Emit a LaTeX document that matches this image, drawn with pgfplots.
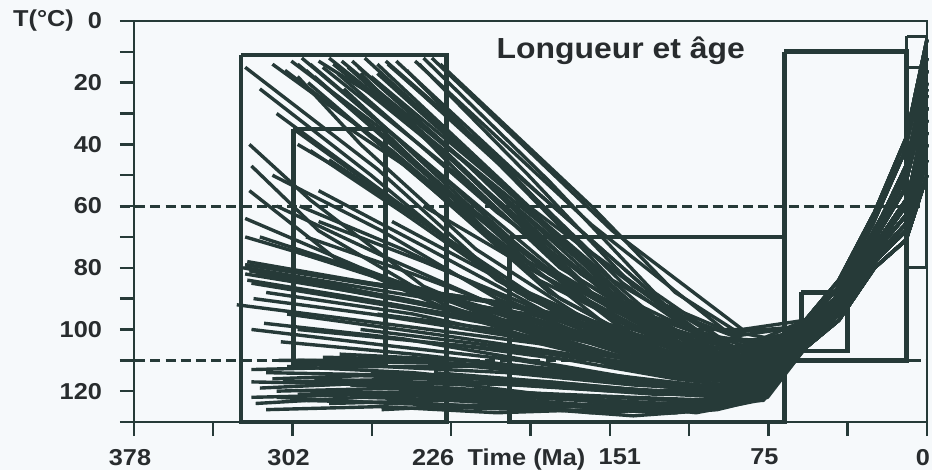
\documentclass[border=0pt]{standalone}
\usepackage{pgfplots}
\pgfplotsset{compat=1.18}
\usepackage{fontspec}
\setmainfont{Liberation Sans}[FakeStretch=1.1]
\definecolor{ink}{RGB}{38,58,56}
\definecolor{txt}{RGB}{40,44,46}
\definecolor{bg}{RGB}{246,249,251}
\pgfplotsset{
  tp/.style={no markers, line width=1.7pt, color=ink, line join=round},
  bx/.style={no markers, line width=2.4pt, color=ink, line join=miter},
}
\begin{document}
\begin{tikzpicture}
\path[fill=bg, use as bounding box] (-67pt,-24pt) rectangle (399pt,211pt);
\begin{axis}[
  at={(0,0)}, anchor=south west,
  scale only axis,
  width=396.5pt, height=200.5pt,
  xmin=0, xmax=378, ymin=0, ymax=130,
  x dir=reverse, y dir=reverse,
  clip=false,
  axis line style={ink, line width=1.2pt},
  tick style={ink, line width=1.2pt},
  tick align=outside,
  major tick length=7pt,
  xtick pos=bottom, ytick pos=left,
  xtick={0,37.8,75.6,113.4,151.2,189,226.8,264.6,302.4,340.2,378},
  xticklabels={0,,75,,\hspace*{14pt}151,Time (Ma),226\hspace*{14pt},,302,,378},
  ytick={0,10,20,30,40,50,60,70,80,90,100,110,120,130},
  yticklabels={0,,20,,40,,60,,80,,100,,120,},
  tick label style={font=\bfseries\fontsize{11.5}{13}\selectfont, text=txt},
  yticklabel style={xshift=-5.5pt},
  xticklabel style={yshift=-3pt, xshift=-2pt},
]
% constraint boxes
\addplot[bx] coordinates {(327,11) (229,11) (229,130) (327,130) (327,11)};
\addplot[bx] coordinates {(302,35) (258,35) (258,111) (302,111) (302,35)};
\addplot[bx] coordinates {(199,70) (68,70) (68,130) (199,130) (199,70)};
\addplot[bx] coordinates {(68,10) (9.6,10) (9.6,110) (68,110) (68,10)};
\addplot[bx] coordinates {(60,88) (38,88) (38,107) (60,107) (60,88)};
\addplot[bx, line width=1.5pt] coordinates {(9.6,5) (0,5) (0,80) (9.6,80) (9.6,5)};
\addplot[bx, line width=1.5pt] coordinates {(9.6,15) (0,15)};
\addplot[bx, line width=1.2pt] coordinates {(9.6,110) (3,110)};
% limits 60 and 110
\addplot[no markers, ink, line width=1.5pt, dash pattern=on 5pt off 2.6pt] coordinates {(384.7,60) (0,60)};
\addplot[no markers, ink, line width=1.5pt, dash pattern=on 5pt off 2.6pt] coordinates {(384.7,110) (0,110)};
% paths starting near the top of the box
\addplot[tp] coordinates {(236,12) (150,68) (88,100) (58,97) (42,84) (25,62) (10,38) (0,6)};
\addplot[tp] coordinates {(244,13) (160,66) (95,101) (59,99) (43,87) (26,66) (11,43) (0,12)};
\addplot[tp] coordinates {(258,13) (175,62) (120,95) (85,104) (57,100) (41,88) (24,67) (10,47) (0,16)};
\addplot[tp] coordinates {(262,14) (190,60) (110,101) (80,105) (58,101) (42,89) (25,69) (10,51) (0,20)};
\addplot[tp] coordinates {(274,13) (200,58) (130,98) (82,108) (60,102) (43,91) (26,72) (11,55) (0,24)};
\addplot[tp] coordinates {(276,15) (215,52) (140,96) (90,110) (57,102) (41,91) (24,72) (9,57) (0,28)};
\addplot[tp] coordinates {(281,17) (205,62) (120,104) (78,112) (58,103) (42,92) (25,74) (10,60) (0,32)};
\addplot[tp] coordinates {(288,15) (220,52) (150,94) (85,108) (59,104) (43,94) (26,76) (10,63) (0,36)};
\addplot[tp] coordinates {(292,18) (230,55) (160,92) (100,112) (76,116) (57,104) (41,94) (24,76) (9,65) (0,40)};
\addplot[tp] coordinates {(294,14) (240,45) (170,85) (110,107) (82,112) (58,105) (42,95) (25,78) (10,68) (0,45)};
\addplot[tp] coordinates {(296,16) (225,58) (145,100) (92,113) (58,106) (42,97) (25,80) (10,71) (0,50)};
\addplot[tp] coordinates {(298,12) (235,48) (180,82) (115,106) (80,110) (60,100) (44,90) (27,70) (12,52) (0,22)};
\addplot[tp] coordinates {(300,14) (245,45) (190,78) (120,105) (86,114) (60,102) (43,91) (26,72) (11,55) (0,24)};
\addplot[tp] coordinates {(285,12) (230,42) (165,84) (105,110) (78,118) (58,103) (42,92) (25,74) (10,60) (0,32)};
\addplot[tp] coordinates {(268,12) (210,48) (150,88) (95,106) (58,101) (42,89) (25,69) (10,51) (0,20)};
\addplot[tp] coordinates {(253,13) (185,56) (125,92) (90,102) (59,99) (43,87) (26,66) (11,43) (0,12)};
\addplot[tp] coordinates {(248,16) (170,70) (110,100) (57,100) (41,88) (24,67) (10,47) (0,16)};
\addplot[tp] coordinates {(325,15) (262,48) (200,86) (130,110) (84,116) (57,104) (41,94) (24,76) (9,65) (0,40)};
\addplot[tp] coordinates {(323,40) (294,58) (240,86) (150,112) (85,118) (58,105) (42,95) (25,78) (10,68) (0,45)};
\addplot[tp] coordinates {(323,55) (280,78) (220,96) (140,113) (80,120) (58,106) (42,97) (25,80) (10,71) (0,50)};
\addplot[tp] coordinates {(322,47) (290,68) (230,92) (160,108) (90,114) (59,104) (43,94) (26,76) (10,63) (0,36)};
\addplot[tp] coordinates {(278,22) (215,62) (140,102) (88,110) (57,102) (41,91) (24,72) (9,57) (0,28)};
\addplot[tp] coordinates {(265,18) (200,55) (130,96) (84,106) (60,100) (44,90) (27,70) (12,52) (0,22)};
\addplot[tp] coordinates {(290,13) (250,30) (200,62) (130,100) (86,109) (58,97) (42,84) (25,62) (10,38) (0,6)};
\addplot[tp] coordinates {(303,13) (260,35) (210,68) (150,100) (95,112) (57,100) (41,88) (24,67) (10,47) (0,16)};
\addplot[tp] coordinates {(242,14) (190,50) (140,86) (96,104) (57,102) (41,91) (24,72) (9,57) (0,28)};
\addplot[tp] coordinates {(270,17) (225,48) (175,80) (110,106) (75,112) (59,104) (43,94) (26,76) (10,63) (0,36)};
\addplot[tp] coordinates {(300,18) (270,40) (215,74) (160,98) (100,115) (58,101) (42,89) (25,69) (10,51) (0,20)};
\addplot[tp] coordinates {(312,14) (255,42) (190,80) (125,104) (84,110) (59,99) (43,87) (26,66) (11,43) (0,12)};
\addplot[tp] coordinates {(306,16) (250,45) (185,84) (120,106) (80,112) (58,101) (42,89) (25,69) (10,51) (0,20)};
\addplot[tp] coordinates {(283,14) (225,46) (160,88) (100,108) (79,113) (57,102) (41,91) (24,72) (9,57) (0,28)};
\addplot[tp] coordinates {(279,13) (220,46) (165,82) (115,104) (83,108) (59,104) (43,94) (26,76) (10,63) (0,36)};
\addplot[tp] coordinates {(271,15) (210,52) (145,92) (98,108) (58,105) (42,95) (25,78) (10,68) (0,45)};
\addplot[tp] coordinates {(262,17) (195,58) (135,95) (90,106) (60,100) (44,90) (27,70) (12,52) (0,22)};
\addplot[tp] coordinates {(257,14) (200,48) (150,84) (105,102) (82,104) (58,97) (42,84) (25,62) (10,38) (0,6)};
\addplot[tp] coordinates {(295,20) (240,52) (180,88) (120,110) (88,116) (57,100) (41,88) (24,67) (10,47) (0,16)};
\addplot[tp] coordinates {(287,25) (235,55) (175,90) (115,112) (80,118) (60,102) (43,91) (26,72) (11,55) (0,24)};
\addplot[tp] coordinates {(318,22) (265,50) (205,84) (140,108) (90,118) (58,103) (42,92) (25,74) (10,60) (0,32)};
\addplot[tp] coordinates {(250,18) (195,52) (145,85) (105,104) (86,107) (57,102) (41,91) (24,72) (9,57) (0,28)};
\addplot[tp] coordinates {(240,12) (180,52) (130,88) (98,103) (59,104) (43,94) (26,76) (10,63) (0,36)};
\addplot[tp] coordinates {(232,14) (160,60) (120,88) (90,101) (58,105) (42,95) (25,78) (10,68) (0,45)};
% paths starting on the left edge at middle temperatures
\addplot[tp] coordinates {(325,64) (270,80) (200,98) (130,112) (85,117) (58,103) (42,92) (25,74) (10,60) (0,32)};
\addplot[tp] coordinates {(325,79) (260,86) (200,92) (130,104) (88,110) (60,102) (43,91) (26,72) (11,55) (0,24)};
\addplot[tp] coordinates {(325,80) (255,88) (190,95) (120,106) (85,112) (57,104) (41,94) (24,76) (9,65) (0,40)};
\addplot[tp] coordinates {(324,78) (265,85) (205,91) (140,100) (90,106) (57,100) (41,88) (24,67) (10,47) (0,16)};
\addplot[tp] coordinates {(323,81) (250,90) (180,100) (110,110) (80,115) (58,106) (42,97) (25,80) (10,71) (0,50)};
\addplot[tp] coordinates {(322,85) (250,93) (170,103) (100,113) (78,118) (58,105) (42,95) (25,78) (10,68) (0,45)};
\addplot[tp] coordinates {(329,92) (260,98) (180,105) (110,113) (82,118) (59,104) (43,94) (26,76) (10,63) (0,36)};
\addplot[tp] coordinates {(320,82) (240,92) (160,104) (95,112) (57,102) (41,91) (24,72) (9,57) (0,28)};
\addplot[tp] coordinates {(318,70) (255,84) (190,97) (120,108) (84,112) (59,99) (43,87) (26,66) (11,43) (0,12)};
\addplot[tp] coordinates {(310,60) (260,76) (200,94) (130,108) (90,113) (60,100) (44,90) (27,70) (12,52) (0,22)};
\addplot[tp] coordinates {(325,79) (275,84) (215,90) (150,100) (95,108) (58,101) (42,89) (25,69) (10,51) (0,20)};
\addplot[tp] coordinates {(300,75) (240,88) (170,101) (100,111) (58,103) (42,92) (25,74) (10,60) (0,32)};
\addplot[tp] coordinates {(326,80) (280,86) (220,95) (150,106) (85,114) (58,97) (42,84) (25,62) (10,38) (0,6)};
\addplot[tp] coordinates {(315,88) (245,95) (170,106) (105,115) (80,119) (57,104) (41,94) (24,76) (9,65) (0,40)};
\addplot[tp] coordinates {(305,95) (230,102) (150,110) (90,116) (58,105) (42,95) (25,78) (10,68) (0,45)};
\addplot[tp] coordinates {(290,65) (240,78) (180,95) (115,107) (82,110) (60,102) (43,91) (26,72) (11,55) (0,24)};
\addplot[tp] coordinates {(325,70) (265,82) (200,96) (135,110) (86,117) (57,104) (41,94) (24,76) (9,65) (0,40)};
\addplot[tp] coordinates {(325,82) (262,89) (195,98) (125,110) (82,116) (58,106) (42,97) (25,80) (10,71) (0,50)};
\addplot[tp] coordinates {(324,84) (270,90) (210,97) (150,108) (98,116) (78,120) (58,105) (42,95) (25,78) (10,68) (0,45)};
\addplot[tp] coordinates {(321,90) (265,95) (200,102) (140,112) (92,119) (59,104) (43,94) (26,76) (10,63) (0,36)};
\addplot[tp] coordinates {(316,98) (250,103) (190,110) (130,117) (88,121) (57,102) (41,91) (24,72) (9,57) (0,28)};
\addplot[tp] coordinates {(308,104) (245,108) (180,113) (120,119) (80,122) (58,101) (42,89) (25,69) (10,51) (0,20)};
\addplot[tp] coordinates {(322,100) (260,105) (195,110) (140,116) (95,120) (58,97) (42,84) (25,62) (10,38) (0,6)};
% paths starting at intermediate temperatures inside the box
\addplot[tp] coordinates {(300,40) (250,60) (190,90) (120,108) (85,113) (60,102) (43,91) (26,72) (11,55) (0,24)};
\addplot[tp] coordinates {(290,55) (240,73) (180,95) (115,110) (82,114) (59,104) (43,94) (26,76) (10,63) (0,36)};
\addplot[tp] coordinates {(275,35) (220,60) (160,92) (105,110) (57,100) (41,88) (24,67) (10,47) (0,16)};
\addplot[tp] coordinates {(310,30) (260,55) (200,85) (130,107) (88,112) (57,102) (41,91) (24,72) (9,57) (0,28)};
\addplot[tp] coordinates {(285,45) (230,70) (170,97) (110,112) (80,116) (57,104) (41,94) (24,76) (9,65) (0,40)};
\addplot[tp] coordinates {(300,100) (240,104) (180,108) (120,114) (85,117) (58,105) (42,95) (25,78) (10,68) (0,45)};
\addplot[tp] coordinates {(270,100) (210,105) (150,110) (100,116) (60,100) (44,90) (27,70) (12,52) (0,22)};
\addplot[tp] coordinates {(255,65) (200,85) (140,104) (95,112) (59,99) (43,87) (26,66) (11,43) (0,12)};
\addplot[tp] coordinates {(262,95) (205,100) (150,108) (100,116) (60,100) (44,90) (27,70) (12,52) (0,22)};
\addplot[tp] coordinates {(245,88) (195,95) (140,106) (95,114) (58,97) (42,84) (25,62) (10,38) (0,6)};
\addplot[tp] coordinates {(240,60) (190,80) (140,100) (95,110) (57,100) (41,88) (24,67) (10,47) (0,16)};
\addplot[tp] coordinates {(230,40) (185,65) (140,92) (100,108) (60,102) (43,91) (26,72) (11,55) (0,24)};
\addplot[tp] coordinates {(225,105) (170,110) (120,116) (84,119) (57,102) (41,91) (24,72) (9,57) (0,28)};
\addplot[tp] coordinates {(215,95) (165,103) (115,112) (86,116) (58,101) (42,89) (25,69) (10,51) (0,20)};
\addplot[tp] coordinates {(200,85) (150,100) (105,110) (82,113) (59,99) (43,87) (26,66) (11,43) (0,12)};
\addplot[tp] coordinates {(180,80) (140,96) (100,108) (60,100) (44,90) (27,70) (12,52) (0,22)};
\addplot[tp] coordinates {(302,35) (255,58) (200,85) (150,103) (100,114) (57,104) (41,94) (24,76) (9,65) (0,40)};
\addplot[tp] coordinates {(294,42) (250,62) (195,88) (140,106) (95,115) (58,106) (42,97) (25,80) (10,71) (0,50)};
\addplot[tp] coordinates {(299,60) (250,74) (195,92) (135,108) (90,115) (58,103) (42,92) (25,74) (10,60) (0,32)};
\addplot[tp] coordinates {(296,70) (245,82) (190,96) (130,110) (88,117) (60,102) (43,91) (26,72) (11,55) (0,24)};
\addplot[tp] coordinates {(312,50) (260,68) (205,90) (145,107) (92,116) (57,100) (41,88) (24,67) (10,47) (0,16)};
% paths starting hot, near the bottom of the box
\addplot[tp] coordinates {(322,113) (260,112) (200,114) (140,118) (90,120) (58,106) (42,97) (25,80) (10,71) (0,50)};
\addplot[tp] coordinates {(322,117) (250,118) (180,121) (120,123) (78,122) (58,105) (42,95) (25,78) (10,68) (0,45)};
\addplot[tp] coordinates {(307,117) (240,116) (170,119) (110,121) (80,121) (57,104) (41,94) (24,76) (9,65) (0,40)};
\addplot[tp] coordinates {(322,122) (260,121) (200,123) (150,126) (100,124) (59,104) (43,94) (26,76) (10,63) (0,36)};
\addplot[tp] coordinates {(300,110) (230,111) (160,116) (100,119) (58,103) (42,92) (25,74) (10,60) (0,32)};
\addplot[tp] coordinates {(296,118) (220,117) (150,120) (95,122) (76,121) (58,106) (42,97) (25,80) (10,71) (0,50)};
\addplot[tp] coordinates {(310,120) (250,119) (190,121) (140,124) (105,126) (80,122) (58,105) (42,95) (25,78) (10,68) (0,45)};
\addplot[tp] coordinates {(285,124) (230,123) (160,125) (120,127) (90,124) (57,102) (41,91) (24,72) (9,57) (0,28)};
\addplot[tp] coordinates {(280,112) (210,112) (150,116) (100,120) (60,102) (43,91) (26,72) (11,55) (0,24)};
\addplot[tp] coordinates {(315,114) (240,115) (180,117) (115,121) (85,120) (57,104) (41,94) (24,76) (9,65) (0,40)};
\addplot[tp] coordinates {(300,121) (235,120) (175,122) (125,124) (95,123) (59,104) (43,94) (26,76) (10,63) (0,36)};
\addplot[tp] coordinates {(260,126) (200,124) (160,127) (110,124) (78,123) (58,106) (42,97) (25,80) (10,71) (0,50)};
\addplot[tp] coordinates {(292,116) (220,118) (160,123) (130,127) (100,125) (82,123) (58,105) (42,95) (25,78) (10,68) (0,45)};
\addplot[tp] coordinates {(318,119) (255,117) (190,118) (130,121) (88,121) (58,103) (42,92) (25,74) (10,60) (0,32)};
\addplot[tp] coordinates {(275,118) (210,120) (140,122) (100,123) (60,100) (44,90) (27,70) (12,52) (0,22)};
\addplot[tp] coordinates {(305,112) (245,114) (185,118) (130,120) (92,118) (58,101) (42,89) (25,69) (10,51) (0,20)};
\addplot[tp] coordinates {(250,121) (200,123) (150,126) (115,125) (84,122) (57,104) (41,94) (24,76) (9,65) (0,40)};
\addplot[tp] coordinates {(320,124) (270,122) (220,121) (165,123) (120,126) (90,123) (58,106) (42,97) (25,80) (10,71) (0,50)};
\addplot[tp] coordinates {(288,109) (220,110) (160,114) (110,118) (86,119) (57,102) (41,91) (24,72) (9,57) (0,28)};
\addplot[tp] coordinates {(240,125) (190,126) (150,124) (110,127) (80,123) (58,105) (42,95) (25,78) (10,68) (0,45)};
\addplot[tp] coordinates {(312,116) (270,115) (210,116) (150,119) (95,121) (57,100) (41,88) (24,67) (10,47) (0,16)};
\addplot[tp] coordinates {(265,114) (205,116) (150,119) (105,121) (82,122) (59,104) (43,94) (26,76) (10,63) (0,36)};
\addplot[tp] coordinates {(230,120) (170,122) (130,125) (95,124) (58,103) (42,92) (25,74) (10,60) (0,32)};
\addplot[tp] coordinates {(298,123) (240,124) (180,126) (140,128) (100,126) (76,122) (58,106) (42,97) (25,80) (10,71) (0,50)};
\addplot[tp] coordinates {(280,108) (220,110) (160,115) (105,120) (78,121) (59,99) (43,87) (26,66) (11,43) (0,12)};
\addplot[tp] coordinates {(309,110) (255,110) (195,112) (140,116) (92,119) (60,100) (44,90) (27,70) (12,52) (0,22)};
\addplot[tp] coordinates {(310,122) (255,124) (200,125) (150,127) (110,124) (85,120) (58,103) (42,92) (25,74) (10,60) (0,32)};
\addplot[tp] coordinates {(315,126) (260,125) (205,127) (160,126) (120,127) (90,124) (57,104) (41,94) (24,76) (9,65) (0,40)};
\addplot[tp] coordinates {(290,120) (230,121) (170,124) (125,126) (100,125) (80,120) (58,106) (42,97) (25,80) (10,71) (0,50)};
\addplot[tp] coordinates {(270,122) (220,123) (170,125) (130,124) (96,123) (58,105) (42,95) (25,78) (10,68) (0,45)};
\addplot[tp] coordinates {(235,114) (180,117) (130,120) (90,122) (59,104) (43,94) (26,76) (10,63) (0,36)};
% labels
\node[font=\bfseries\fontsize{14.5}{17}\selectfont, text=txt] at (axis cs:146,9.5) {Longueur et âge};
\node[anchor=east, font=\bfseries\fontsize{11.5}{13}\selectfont, text=txt] at ([xshift=-26.5pt]axis description cs:0,1) {T(°C)};
\end{axis}
\end{tikzpicture}
\end{document}
